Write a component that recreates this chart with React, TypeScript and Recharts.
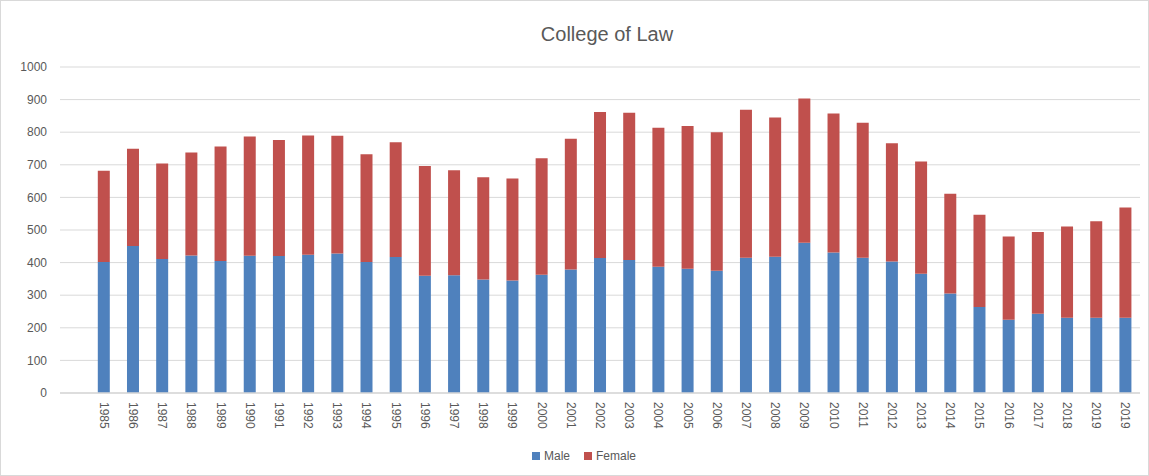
import { BarChart, Bar, XAxis, YAxis, CartesianGrid, Legend } from "recharts";

// first slot is an empty category in the source sheet
const years = [
  "", "1985", "1986", "1987", "1988", "1989", "1990", "1991", "1992", "1993", "1994",
  "1995", "1996", "1997", "1998", "1999", "2000", "2001", "2002", "2003", "2004",
  "2005", "2006", "2007", "2008", "2009", "2010", "2011", "2012", "2013", "2014",
  "2015", "2016", "2017", "2018", "2019", "2019",
];

const male = [
  null, 402, 451, 411, 422, 405, 421, 420, 424, 428, 402,
  417, 360, 361, 348, 345, 363, 379, 414, 408, 387,
  381, 375, 415, 418, 461, 431, 415, 403, 366, 305,
  264, 225, 243, 231, 231, 231,
];

const female = [
  null, 280, 298, 293, 316, 351, 366, 356, 366, 361, 330,
  352, 336, 322, 314, 313, 357, 401, 448, 452, 427,
  438, 425, 454, 427, 442, 426, 414, 363, 344, 306,
  283, 255, 251, 280, 296, 338,
];

const yTicks = [0, 100, 200, 300, 400, 500, 600, 700, 800, 900, 1000];

const data = years.map((year, i) => ({
  key: `${year}-${i}`,
  year,
  Male: male[i],
  Female: female[i],
}));

const TEXT = "#595959";
const FONT = "'Liberation Sans', Arial, sans-serif";

function YearTick({ x, y, payload }: any) {
  const label = years[payload.index] ?? "";
  return (
    <text
      transform={`translate(${x}, ${y + 1}) rotate(90)`}
      textAnchor="start"
      dominantBaseline="central"
      fontSize={12}
      fill={TEXT}
      fontFamily={FONT}
    >
      {label}
    </text>
  );
}

function LegendBox() {
  const items = [
    { name: "Male", color: "#4F81BD" },
    { name: "Female", color: "#C0504D" },
  ];
  return (
    <div
      style={{
        display: "flex",
        justifyContent: "center",
        gap: 14,
        paddingLeft: 28,
        fontSize: 12,
        color: TEXT,
        fontFamily: FONT,
      }}
    >
      {items.map((it) => (
        <span key={it.name} style={{ display: "flex", alignItems: "center", gap: 4 }}>
          <span style={{ width: 8, height: 8, background: it.color, display: "inline-block" }} />
          {it.name}
        </span>
      ))}
    </div>
  );
}

export default function App() {
  return (
    <div
      style={{
        position: "absolute",
        left: 0,
        top: 0,
        width: 1149,
        height: 476,
        background: "#fff",
        boxSizing: "border-box",
        border: "1px solid #d9d9d9",
      }}
    >
      <div
        style={{
          position: "absolute",
          top: 22,
          left: 0,
          width: 1212,
          textAlign: "center",
          fontSize: 20,
          color: TEXT,
          fontFamily: FONT,
        }}
      >
        College of Law
      </div>
      <BarChart
        width={1147}
        height={474}
        data={data}
        margin={{ top: 66, right: 8, left: -1, bottom: 12 }}
        barCategoryGap="29.5%"
      >
        <CartesianGrid vertical={false} stroke="#d9d9d9" />
        <XAxis
          dataKey="key"
          interval={0}
          tick={<YearTick />}
          tickLine={false}
          axisLine={{ stroke: "#d9d9d9", strokeWidth: 1.5 }}
          height={56}
        />
        <YAxis
          domain={[0, 1000]}
          ticks={yTicks}
          width={60}
          axisLine={false}
          tickLine={false}
          tickMargin={7}
          tick={{ fontSize: 12, fill: TEXT, fontFamily: FONT }}
        />
        <Legend verticalAlign="bottom" content={<LegendBox />} />
        <Bar dataKey="Male" stackId="a" fill="#4F81BD" isAnimationActive={false} />
        <Bar dataKey="Female" stackId="a" fill="#C0504D" isAnimationActive={false} />
      </BarChart>
    </div>
  );
}
